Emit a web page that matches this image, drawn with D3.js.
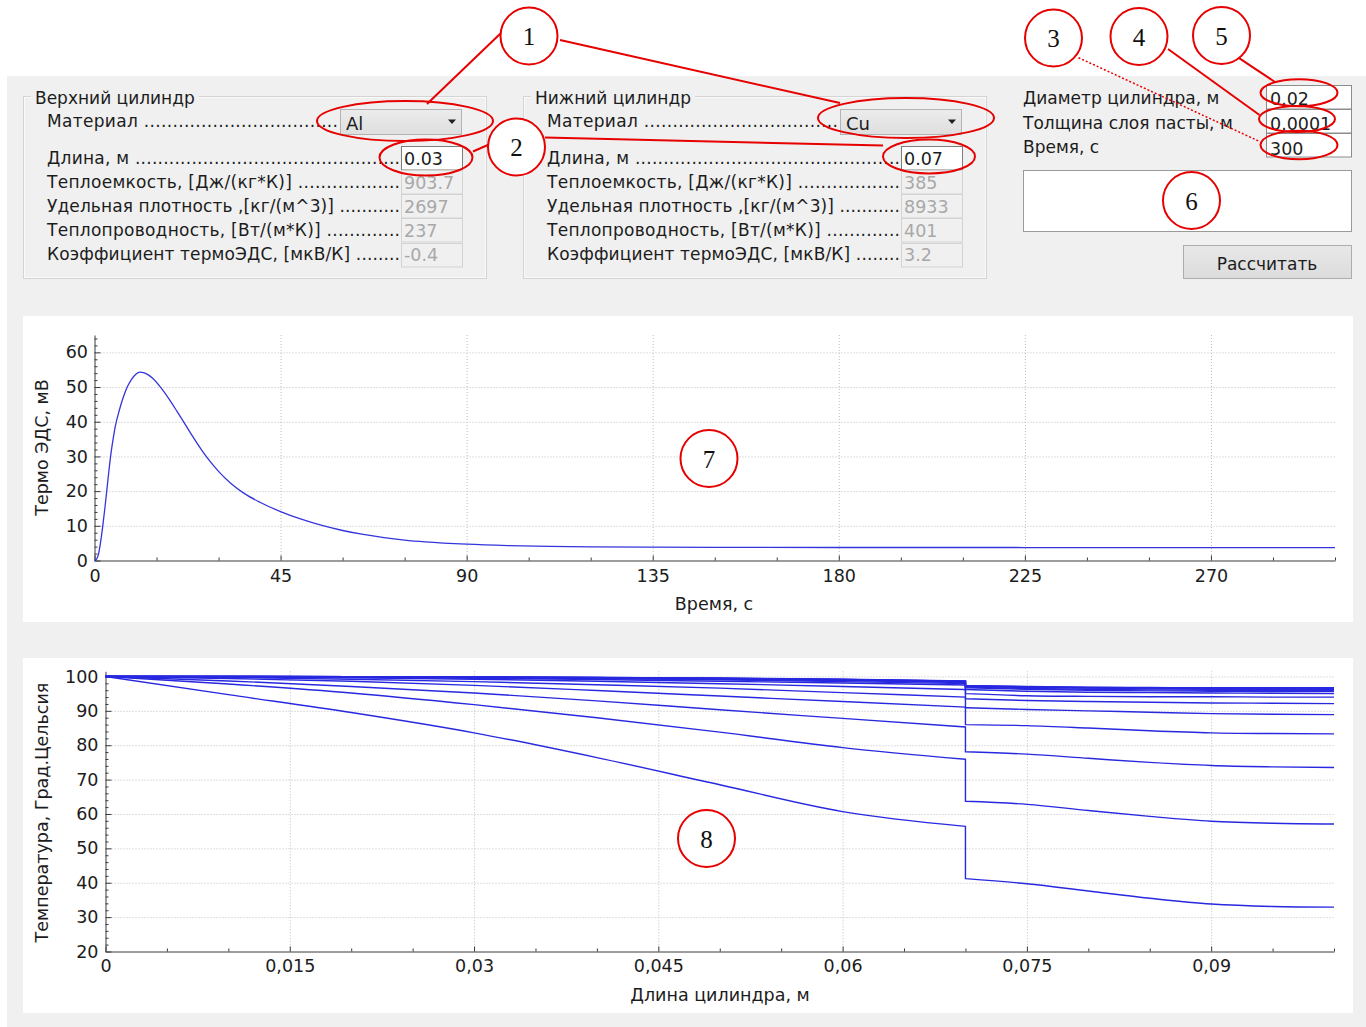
<!DOCTYPE html>
<html lang="ru">
<head>
<meta charset="utf-8">
<title>Термо ЭДС</title>
<script src="https://cdn.jsdelivr.net/npm/d3@7"></script>
<style>
  html, body { margin: 0; padding: 0; background: #ffffff; overflow: hidden; }
  svg { display: block; }
</style>
</head>
<body>
<svg id="app" width="1366" height="1027"></svg>
<script>
// ---------- form contents ----------
const upperTitle = "Верхний цилиндр";
const lowerTitle = "Нижний цилиндр";
const materialLabel = "Материал ..................................";
const propertyLabels = [
  "Длина, м ...............................................",
  "Теплоемкость, [Дж/(кг*К)] ..................",
  "Удельная плотность ,[кг/(м^3)] ...........",
  "Теплопроводность, [Вт/(м*К)] .............",
  "Коэффициент термоЭДС, [мкВ/К] ........"
];
const upperMaterial = "Al";
const lowerMaterial = "Cu";
const upperProps = ["0.03", "903.7", "2697", "237", "-0.4"];
const lowerProps = ["0.07", "385", "8933", "401", "3.2"];
const commonLabels = ["Диаметр цилиндра, м", "Толщина слоя пасты, м", "Время, с"];
const commonValues = ["0.02", "0.0001", "300"];
const buttonText = "Рассчитать";

// ---------- thermo-EMF vs time ----------
const emfTime = [0, 0.5, 1, 1.5, 2, 2.5, 3, 3.5, 4, 4.5,
  5, 6, 7, 8, 9, 10, 11, 12, 13, 14,
  16, 18, 20, 22, 24, 26, 28, 30, 33, 36,
  40, 45, 50, 55, 60, 65, 70, 75, 80, 90,
  100, 110, 120, 135, 150, 180, 225, 270, 300];
const emfValue = [0, 0.4, 2, 5.5, 10, 15, 20.5, 26, 31, 35,
  38.5, 43.3, 47.2, 50.2, 52.3, 53.7, 54.3, 54.1, 53.5, 52.6,
  49.9, 46.6, 42.9, 39.1, 35.3, 31.7, 28.5, 25.7, 22.2, 19.5,
  16.8, 14.1, 11.9, 10.1, 8.65, 7.5, 6.6, 5.9, 5.38, 4.7,
  4.3, 4.06, 3.93, 3.83, 3.78, 3.75, 3.74, 3.74, 3.74];
const emfTickValues = [0, 45, 90, 135, 180, 225, 270];
const emfTickLabels = ["0", "45", "90", "135", "180", "225", "270"];
const emfYTicks = [0, 10, 20, 30, 40, 50, 60];
const emfYLabels = ["0", "10", "20", "30", "40", "50", "60"];
const emfTimeMax = 300;
const emfAxisMax = 65;

// ---------- temperature profiles along the cylinders ----------
const lengthUpper = [0, 0.01, 0.02, 0.03, 0.04, 0.05, 0.06, 0.07];
const lengthLower = [0.07, 0.075, 0.08, 0.085, 0.09, 0.095, 0.1];
const tempUpper = [
  [100, 94.7, 89.5, 83.6, 76.4, 68.5, 60.7, 56.4],
  [100, 97.8, 95.2, 91.8, 88.0, 83.8, 79.3, 75.9],
  [100, 98.7, 97.1, 95.2, 92.9, 90.3, 87.8, 85.3],
  [100, 99.4, 98.6, 97.4, 95.9, 94.3, 92.7, 91.1],
  [100, 99.7, 99.2, 98.5, 97.6, 96.6, 95.3, 94.0],
  [100, 99.85, 99.6, 99.2, 98.6, 97.9, 97.1, 96.2],
  [100, 99.9, 99.75, 99.5, 99.1, 98.6, 98.1, 97.5],
  [100, 99.95, 99.85, 99.65, 99.35, 99.0, 98.5, 97.9],
  [100, 99.97, 99.9, 99.75, 99.5, 99.2, 98.8, 98.2],
  [100, 99.98, 99.92, 99.8, 99.6, 99.35, 98.95, 98.4],
  [100, 99.98, 99.93, 99.83, 99.65, 99.42, 99.05, 98.5],
  [100, 99.99, 99.94, 99.85, 99.68, 99.46, 99.1, 98.6],
  [100, 99.99, 99.95, 99.86, 99.7, 99.49, 99.14, 98.65],
  [100, 99.99, 99.95, 99.87, 99.72, 99.51, 99.17, 98.7]
];
const tempLower = [
  [41.2, 39.7, 37.6, 35.5, 33.8, 33.1, 32.9],
  [63.7, 62.8, 61.0, 59.3, 57.9, 57.3, 57.1],
  [78.1, 77.4, 76.2, 75.0, 74.1, 73.7, 73.5],
  [86.0, 85.7, 85.0, 84.2, 83.6, 83.4, 83.3],
  [90.9, 90.4, 90.0, 89.6, 89.2, 89.0, 88.9],
  [93.5, 93.0, 92.7, 92.5, 92.3, 92.2, 92.1],
  [95.0, 94.4, 94.2, 94.1, 94.1, 94.0, 94.0],
  [96.2, 95.7, 95.4, 95.3, 95.2, 95.1, 95.0],
  [96.7, 96.3, 96.0, 95.8, 95.7, 95.6, 95.6],
  [96.9, 96.5, 96.3, 96.1, 96.0, 96.0, 96.0],
  [97.1, 96.8, 96.6, 96.4, 96.3, 96.3, 96.3],
  [97.2, 96.9, 96.7, 96.6, 96.5, 96.5, 96.5],
  [97.3, 97.0, 96.8, 96.7, 96.6, 96.6, 96.6],
  [97.35, 97.1, 96.9, 96.8, 96.7, 96.7, 96.7]
];
const tempTickValues = [0, 0.015, 0.03, 0.045, 0.06, 0.075, 0.09];
const tempTickLabels = ["0", "0,015", "0,03", "0,045", "0,06", "0,075", "0,09"];
const tempYTicks = [20, 30, 40, 50, 60, 70, 80, 90, 100];
const tempYLabels = ["20", "30", "40", "50", "60", "70", "80", "90", "100"];
const tempLengthMax = 0.1;
const tempAxisMin = 20;
const tempAxisMax = 101.5;

// ---------- drawing ----------
const svg = d3.select("#app");
const FONT = '"DejaVu Sans", "Noto Sans", sans-serif';
const SERIF = '"Liberation Serif", "DejaVu Serif", serif';
const INK = "#1c1c1c";
const RED = "#e60000";
const BLUE = "#2828e0";
const UI_SIZE = 17;

function label(parent, x, y, str, o = {}) {
  const t = parent.append("text").attr("x", x).attr("y", y).text(str)
    .attr("font-family", o.family || FONT)
    .attr("font-size", o.size || 17.5)
    .attr("fill", o.fill || INK);
  if (o.anchor) t.attr("text-anchor", o.anchor);
  if (o.length) t.attr("textLength", o.length).attr("lengthAdjust", "spacing");
  return t;
}

const defs = svg.append("defs");
const cg = defs.append("linearGradient").attr("id", "comboFill").attr("x1", 0).attr("y1", 0).attr("x2", 0).attr("y2", 1);
cg.append("stop").attr("offset", 0).attr("stop-color", "#ececec");
cg.append("stop").attr("offset", 1).attr("stop-color", "#dedede");
const bgr = defs.append("linearGradient").attr("id", "btnFill").attr("x1", 0).attr("y1", 0).attr("x2", 0).attr("y2", 1);
bgr.append("stop").attr("offset", 0).attr("stop-color", "#e8e8e8");
bgr.append("stop").attr("offset", 1).attr("stop-color", "#dcdcdc");

// window background
svg.append("rect").attr("width", 1366).attr("height", 1027).attr("fill", "#ffffff");
svg.append("rect").attr("x", 7).attr("y", 76).attr("width", 1359).attr("height", 951).attr("fill", "#f0f0f0");

// cylinder parameter groups
const rowBase = [163.5, 187.5, 211.5, 235.5, 259.5];
const rowBox = [146.5, 170.5, 194.5, 218.5, 243.5];

function cylinderGroup(x0, title, material, values) {
  const g = svg.append("g");
  g.append("rect").attr("x", x0 + 0.5).attr("y", 96.5).attr("width", 463).attr("height", 182)
    .attr("fill", "none").attr("stroke", "#d4d4d4");
  g.append("rect").attr("x", x0 + 1.5).attr("y", 97.5).attr("width", 461).attr("height", 180)
    .attr("fill", "none").attr("stroke", "#fafafa");
  const tb = g.append("rect").attr("fill", "#f0f0f0");
  const tt = label(g, x0 + 12, 104, title, { size: UI_SIZE });
  const w = tt.node().getComputedTextLength();
  tb.attr("x", x0 + 8).attr("y", 90).attr("width", w + 8).attr("height", 14);

  label(g, x0 + 24, 126.5, materialLabel, { length: 291, size: UI_SIZE });
  g.append("rect").attr("x", x0 + 317.5).attr("y", 109.5).attr("width", 121).attr("height", 25)
    .attr("fill", "url(#comboFill)").attr("stroke", "#b3b3b3");
  label(g, x0 + 323, 130, material, { size: 18 });
  g.append("path").attr("d", `M${x0 + 425},119.5h8l-4,4.5z`).attr("fill", "#202020");

  propertyLabels.forEach((txt, i) => {
    label(g, x0 + 24, rowBase[i], txt, { length: 353, size: UI_SIZE });
    const editable = i === 0;
    g.append("rect").attr("x", x0 + 378.5).attr("y", rowBox[i]).attr("width", 61).attr("height", 23.5)
      .attr("fill", editable ? "#ffffff" : "#f0f0f0")
      .attr("stroke", editable ? "#7d7d7d" : "#d3d3d3");
    label(g, x0 + 381, rowBase[i] + 1.5, values[i], { fill: editable ? INK : "#a8a8a8" });
  });
}
cylinderGroup(23, upperTitle, upperMaterial, upperProps);
cylinderGroup(523, lowerTitle, lowerMaterial, lowerProps);

// common parameters, result box and button
const rp = svg.append("g");
const commonBase = [103.5, 128.5, 153];
const commonBox = [85.5, 109.5, 133.5];
commonLabels.forEach((t, i) => label(rp, 1023, commonBase[i], t, { size: UI_SIZE }));
commonValues.forEach((v, i) => {
  rp.append("rect").attr("x", 1266.5).attr("y", commonBox[i]).attr("width", 85).attr("height", 23.5)
    .attr("fill", "#ffffff").attr("stroke", "#8c8c8c");
  label(rp, 1270, commonBase[i] + 1.5, v);
});
rp.append("rect").attr("x", 1023.5).attr("y", 170.5).attr("width", 328).attr("height", 61)
  .attr("fill", "#ffffff").attr("stroke", "#9a9a9a");
rp.append("rect").attr("x", 1183.5).attr("y", 245.5).attr("width", 168).attr("height", 33)
  .attr("fill", "url(#btnFill)").attr("stroke", "#adadad");
label(rp, 1267, 269.5, buttonText, { anchor: "middle", size: UI_SIZE });

// shared axis drawing
function drawAxes(g, x, y, cfg) {
  const [x0, x1] = x.range();
  const [y0, y1] = y.range();
  // dotted grid
  g.append("g").selectAll("line").data(cfg.xMajor.filter(d => d !== x.domain()[0])).join("line")
    .attr("x1", d => x(d) + 0.5).attr("x2", d => x(d) + 0.5).attr("y1", y1).attr("y2", y0)
    .attr("stroke", "#bdbdbd").attr("stroke-dasharray", "1 2");
  g.append("g").selectAll("line").data(cfg.yMajor.filter(d => d !== y.domain()[0])).join("line")
    .attr("x1", x0).attr("x2", x1).attr("y1", d => y(d) + 0.5).attr("y2", d => y(d) + 0.5)
    .attr("stroke", "#bdbdbd").attr("stroke-dasharray", "1 2");

  const ax = g.append("g").attr("class", "axes");
  ax.append("g").attr("transform", `translate(0,${y0})`)
    .call(d3.axisBottom(x).tickValues(cfg.xMinor).tickFormat("").tickSize(-3).tickSizeOuter(0))
    .call(s => s.select(".domain").remove());
  ax.append("g").attr("transform", `translate(0,${y0})`)
    .call(d3.axisBottom(x).tickValues(cfg.xMajor).tickFormat((d, i) => cfg.xLabels[i])
      .tickSize(-5).tickSizeOuter(0).tickPadding(cfg.xPad));
  ax.append("g").attr("transform", `translate(${x0},0)`)
    .call(d3.axisLeft(y).tickValues(cfg.yMinor).tickFormat("").tickSize(-3).tickSizeOuter(0))
    .call(s => s.select(".domain").remove());
  ax.append("g").attr("transform", `translate(${x0},0)`)
    .call(d3.axisLeft(y).tickValues(cfg.yMajor).tickFormat((d, i) => cfg.yLabels[i])
      .tickSize(-6).tickSizeOuter(0).tickPadding(cfg.yPad));
  ax.selectAll("g").attr("font-family", FONT).attr("font-size", 17.5);
  ax.selectAll("text").attr("fill", INK);
  ax.selectAll("line,path").attr("stroke", "#3a3a3a");
}

// ---- thermo-EMF chart ----
const emfPanel = svg.append("g");
emfPanel.append("rect").attr("x", 23).attr("y", 316).attr("width", 1330).attr("height", 306).attr("fill", "#ffffff");
const emfX = d3.scaleLinear().domain([0, emfTimeMax]).range([94.5, 1335]);
const emfY = d3.scaleLinear().domain([0, emfAxisMax]).range([560.5, 335]);
drawAxes(emfPanel, emfX, emfY, {
  xMajor: emfTickValues, xLabels: emfTickLabels,
  xMinor: d3.range(0, 21).filter(i => i % 3 !== 0).map(i => i * 15),
  yMajor: emfYTicks, yLabels: emfYLabels,
  yMinor: d3.range(0, 33).filter(i => i % 5 !== 0).map(i => i * 2),
  xPad: 9.5, yPad: 6.5
});
emfPanel.append("path")
  .datum(emfTime.map((t, i) => [t, emfValue[i]]))
  .attr("fill", "none").attr("stroke", "#3434dc").attr("stroke-width", 1.3)
  .attr("d", d3.line().x(d => emfX(d[0])).y(d => emfY(d[1])).curve(d3.curveMonotoneX));
label(emfPanel, 714, 609.5, "Время, с", { anchor: "middle" });
label(emfPanel, 0, 0, "Термо ЭДС, мВ", { anchor: "middle" })
  .attr("transform", "translate(48,447.5) rotate(-90)");

// ---- temperature profile chart ----
const tempPanel = svg.append("g");
tempPanel.append("rect").attr("x", 23).attr("y", 658).attr("width", 1330).attr("height", 355).attr("fill", "#ffffff");
const tX = d3.scaleLinear().domain([0, tempLengthMax]).range([105.5, 1334]);
const tY = d3.scaleLinear().domain([tempAxisMin, tempAxisMax]).range([951.5, 671.3]);
drawAxes(tempPanel, tX, tY, {
  xMajor: tempTickValues, xLabels: tempTickLabels,
  xMinor: d3.range(0, 21).filter(i => i % 3 !== 0).map(i => i * 0.005),
  yMajor: tempYTicks, yLabels: tempYLabels,
  yMinor: d3.range(10, 51).filter(i => i % 5 !== 0).map(i => i * 2),
  xPad: 8.5, yPad: 7
});
const segLine = d3.line().x(d => tX(d[0])).y(d => tY(d[1])).curve(d3.curveMonotoneX);
tempPanel.append("g").selectAll("path").data(tempUpper).join("path")
  .attr("fill", "none").attr("stroke", BLUE).attr("stroke-width", 1.4)
  .attr("d", (vals, i) => {
    const a = segLine(lengthUpper.map((x, j) => [x, vals[j]]));
    const b = segLine(lengthLower.map((x, j) => [x, tempLower[i][j]]));
    return a + b.replace(/^M/, "L");
  });
label(tempPanel, 720, 1000.5, "Длина цилиндра, м", { anchor: "middle" });
label(tempPanel, 0, 0, "Температура, Град.Цельсия", { anchor: "middle" })
  .attr("transform", "translate(48,812.5) rotate(-90)");

// ---- red callouts ----
const ann = svg.append("g").attr("fill", "none").attr("stroke", RED).attr("stroke-width", 2);
[[405, 121, 88, 20], [906, 118, 88, 20], [426, 157.5, 46.5, 18], [929, 156.5, 46, 17],
 [1299, 92.7, 38.5, 13.5], [1297, 119, 38, 13], [1299, 145, 38.5, 14.3]]
  .forEach(([cx, cy, rx, ry]) => ann.append("ellipse").attr("cx", cx).attr("cy", cy).attr("rx", rx).attr("ry", ry));
[[501, 33, 427, 104], [560, 40, 840, 103], [473, 151.5, 489, 144.5], [545, 137.5, 883, 145.5],
 [1168, 49, 1259.5, 115], [1238, 57.3, 1275, 82]]
  .forEach(([a, b, c, d]) => ann.append("line").attr("x1", a).attr("y1", b).attr("x2", c).attr("y2", d));
ann.append("line").attr("x1", 1078.5).attr("y1", 57.7).attr("x2", 1260).attr("y2", 141.7)
  .attr("stroke-width", 1.5).attr("stroke-dasharray", "2 2");
[[529, 36, "1"], [516.5, 147, "2"], [1053.5, 38, "3"], [1139, 36.5, "4"], [1221.5, 35.5, "5"],
 [1191.5, 200.5, "6"], [709, 458.5, "7"], [706.5, 838.5, "8"]]
  .forEach(([cx, cy, n]) => {
    ann.append("circle").attr("cx", cx).attr("cy", cy).attr("r", 28.5).attr("fill", "#ffffff");
    label(svg, cx, cy + 9, n, { family: SERIF, size: 25, anchor: "middle", fill: "#111111" });
  });
</script>
</body>
</html>
